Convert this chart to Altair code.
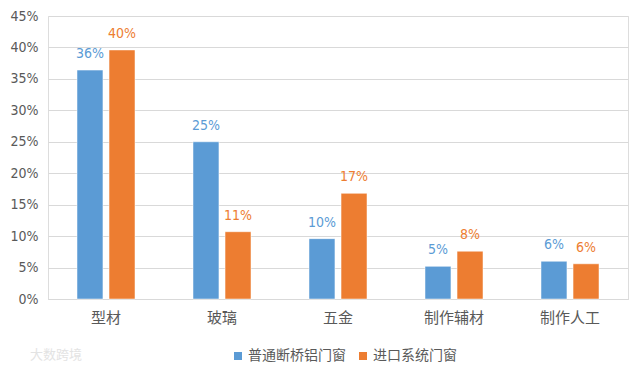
import altair as alt
import pandas as pd

categories = ["型材", "玻璃", "五金", "制作辅材", "制作人工"]
series = ["普通断桥铝门窗", "进口系统门窗"]
blue_vals = [0.364, 0.250, 0.096, 0.052, 0.060]
orange_vals = [0.396, 0.107, 0.168, 0.076, 0.056]
colors = ["#5B9BD5", "#ED7D31"]
y_ticks = [0, 0.05, 0.10, 0.15, 0.20, 0.25, 0.30, 0.35, 0.40, 0.45]

rows = []
for c, b, o in zip(categories, blue_vals, orange_vals):
    rows.append({"cat": c, "series": series[0], "v": b})
    rows.append({"cat": c, "series": series[1], "v": o})
df = pd.DataFrame(rows)

FONT = "Noto Sans CJK SC"
NUMFONT = "Liberation Sans Narrow, DejaVu Sans Condensed, Noto Sans CJK SC"

x = alt.X("cat:N", sort=categories, title=None,
          scale=alt.Scale(paddingInner=0.5, paddingOuter=0.25),
          axis=alt.Axis(labelAngle=0, labelFontSize=15, labelColor="#595959",
                        labelFont=FONT, labelPadding=11, ticks=False,
                        domainColor="#d9d9d9", grid=False))
xo = alt.XOffset("series:N", sort=series,
                 scale=alt.Scale(paddingInner=0.19, paddingOuter=0))
y = alt.Y("v:Q", title=None,
          scale=alt.Scale(domain=[0, 0.45], nice=False),
          axis=alt.Axis(values=y_ticks, format=".0%", labelFontSize=14,
                        labelColor="#595959", labelFont=NUMFONT, labelPadding=10,
                        ticks=False, domain=False, gridColor="#d9d9d9"))
color = alt.Color("series:N", sort=series,
                  scale=alt.Scale(domain=series, range=colors),
                  legend=alt.Legend(title=None, orient="none", direction="horizontal",
                                    legendX=183, legendY=333, symbolType="square",
                                    symbolSize=64, symbolStrokeWidth=0,
                                    labelFontSize=14, labelFont=FONT,
                                    labelColor="#595959", columnPadding=10,
                                    labelOffset=3))

base = alt.Chart(df).encode(x=x, xOffset=xo, y=y)
bars = base.mark_bar(stroke="white", strokeWidth=0.5).encode(color=color)
labels = base.mark_text(baseline="bottom", dy=-9, fontSize=14, font=NUMFONT).encode(
    text=alt.Text("v:Q", format=".0%"),
    color=alt.Color("series:N", sort=series,
                    scale=alt.Scale(domain=series, range=colors), legend=None),
)

watermark = alt.Chart(pd.DataFrame({"t": ["大数跨境"]})).mark_text(
    align="left", baseline="middle", fontSize=13, font=FONT, color="#e3e3e3"
).encode(text="t:N", x=alt.value(-18), y=alt.value(339))

chart = alt.layer(bars, labels, watermark).properties(
    width=580, height=283,
    autosize=alt.AutoSizeParams(type="none"),
    padding={"left": 40, "top": 8, "right": 4, "bottom": 68},
).configure_view(stroke=None).configure(background="white")

chart.save("out.html", embed_options={"renderer": "svg", "actions": False})
